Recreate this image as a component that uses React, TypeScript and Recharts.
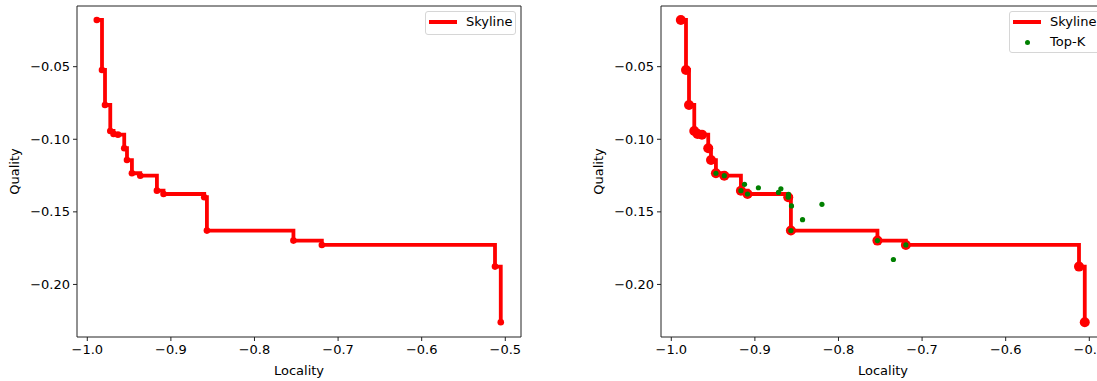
import { ComposedChart, Line, Scatter, XAxis, YAxis, ReferenceArea } from "recharts";

// skyline (step, post)
const skylineX = [
  -0.9886, -0.9824, -0.9788, -0.9725, -0.9686, -0.9633, -0.9558, -0.9525, -0.9466,
  -0.9366, -0.9167, -0.9088, -0.8601, -0.8569, -0.7534, -0.7194, -0.5123, -0.5054,
];
const skylineY = [
  -0.0178, -0.0523, -0.0764, -0.0943, -0.0963, -0.0968, -0.1062, -0.1143, -0.1234,
  -0.1251, -0.1354, -0.1377, -0.1399, -0.1629, -0.1698, -0.1728, -0.1877, -0.226,
];

// top-k points (right panel only)
const topKX = [
  -0.9466, -0.9366, -0.9124, -0.9167, -0.9088, -0.8958, -0.8689, -0.8718, -0.8598,
  -0.8601, -0.8562, -0.843, -0.8198, -0.8569, -0.7534, -0.7194, -0.7343,
];
const topKY = [
  -0.1234, -0.1251, -0.131, -0.1354, -0.1377, -0.1334, -0.1341, -0.1366, -0.138,
  -0.1399, -0.1459, -0.1554, -0.1448, -0.1629, -0.1698, -0.1728, -0.1828,
];

const xTicks = [-1.0, -0.9, -0.8, -0.7, -0.6, -0.5];
const yTicks = [-0.2, -0.15, -0.1, -0.05];

const skyline = skylineX.map((x, i) => ({ x, y: skylineY[i] }));
const topK = topKX.map((x, i) => ({ x, y: topKY[i] }));

const X_DOMAIN: [number, number] = [-1.0123, -0.4812];
const Y_DOMAIN: [number, number] = [-0.2362, -0.0082];
const FONT = "'DejaVu Sans', sans-serif";
const INK = "#222";

const minus = (s: string) => s.replace("-", "\u2212");

function LegendBox({ showTopK }: { showTopK: boolean }) {
  return (
    <div
      style={{
        position: "absolute",
        left: 425,
        top: 11,
        width: 91,
        height: showTopK ? 42 : 24,
        boxSizing: "border-box",
        border: "1px solid #d6d6d6",
        borderRadius: 3,
        background: "rgba(255,255,255,0.8)",
        fontSize: 13,
        color: "#000",
      }}
    >
      <div style={{ position: "absolute", left: 3, top: 8, width: 28, height: 3.5, background: "#ff0000" }} />
      <div style={{ position: "absolute", left: 40, top: 2, lineHeight: "16px" }}>Skyline</div>
      {showTopK && (
        <>
          <div
            style={{
              position: "absolute",
              left: 15,
              top: 28,
              width: 5,
              height: 5,
              borderRadius: "50%",
              background: "green",
            }}
          />
          <div style={{ position: "absolute", left: 40, top: 22, lineHeight: "16px" }}>Top-K</div>
        </>
      )}
    </div>
  );
}

function Panel({ left, showTopK, dotR }: { left: number; showTopK: boolean; dotR: number }) {
  return (
    <div style={{ position: "absolute", left, top: 0, width: 545, height: 381 }}>
      <ComposedChart
        width={545}
        height={381}
        margin={{ top: 6, right: 24, bottom: 0, left: 0 }}
        style={{ fontFamily: FONT }}
      >
        <XAxis
          type="number"
          dataKey="x"
          domain={X_DOMAIN}
          allowDataOverflow
          ticks={xTicks}
          interval={0}
          height={44}
          tickSize={4}
          tickMargin={4}
          axisLine={false}
          tickLine={{ stroke: INK }}
          tick={{ fill: "#000", fontSize: 13 }}
          tickFormatter={(v: number) => minus(v.toFixed(1))}
          label={{ value: "Locality", position: "insideBottom", offset: 6, fill: "#000", fontSize: 13 }}
        />
        <YAxis
          type="number"
          dataKey="y"
          domain={Y_DOMAIN}
          allowDataOverflow
          ticks={yTicks}
          interval={0}
          width={77}
          tickSize={4}
          tickMargin={3}
          axisLine={false}
          tickLine={{ stroke: INK }}
          tick={{ fill: "#000", fontSize: 13 }}
          tickFormatter={(v: number) => minus(v.toFixed(2))}
          label={{
            value: "Quality",
            angle: -90,
            position: "insideLeft",
            offset: 14,
            fill: "#000",
            fontSize: 13,
            style: { textAnchor: "middle" },
          }}
        />
        <ReferenceArea
          x1={X_DOMAIN[0]}
          x2={X_DOMAIN[1]}
          y1={Y_DOMAIN[0]}
          y2={Y_DOMAIN[1]}
          ifOverflow="visible"
          fill="none"
          stroke={INK}
          strokeWidth={1}
        />
        <Line
          data={skyline}
          dataKey="y"
          type="stepAfter"
          stroke="#ff0000"
          strokeWidth={3.8}
          dot={{ r: dotR, fill: "#ff0000", stroke: "none" }}
          activeDot={false}
          isAnimationActive={false}
        />
        {showTopK && (
          <Scatter
            data={topK}
            dataKey="y"
            isAnimationActive={false}
            shape={(p: any) => <circle cx={p.cx} cy={p.cy} r={2.6} fill="#008000" />}
          />
        )}
      </ComposedChart>
      <LegendBox showTopK={showTopK} />
    </div>
  );
}

export default function App() {
  return (
    <div
      style={{
        position: "absolute",
        left: 0,
        top: 0,
        width: 1097,
        height: 381,
        overflow: "hidden",
        background: "#fff",
        fontFamily: FONT,
      }}
    >
      <Panel left={0} showTopK={false} dotR={3.3} />
      <Panel left={584} showTopK dotR={5} />
    </div>
  );
}
